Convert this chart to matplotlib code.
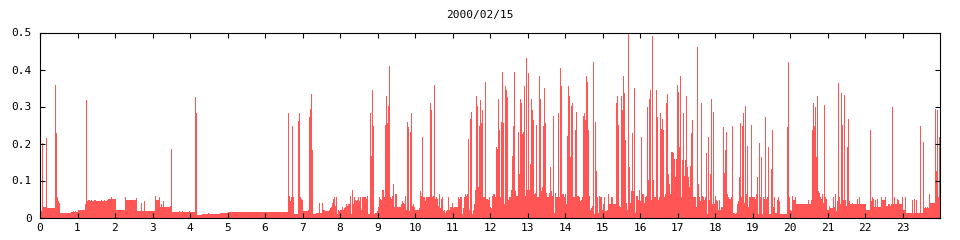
import numpy as np
import matplotlib
matplotlib.use("Agg")
import matplotlib.pyplot as plt

# one sample every 96 s, 100 samples per 2h40m block
samples_00h00 = [
    0.047, 0.016, 0.200, 0.027, 0.027, 0.027, 0.214, 0.023, 0.023, 0.023,
    0.023, 0.023, 0.023, 0.023, 0.023, 0.358, 0.226, 0.055, 0.042, 0.038,
    0.011, 0.011, 0.011, 0.011, 0.011, 0.011, 0.011, 0.011, 0.011, 0.011,
    0.011, 0.014, 0.014, 0.017, 0.014, 0.017, 0.014, 0.014, 0.020, 0.020,
    0.020, 0.020, 0.020, 0.020, 0.020, 0.036, 0.317, 0.043, 0.047, 0.045,
    0.043, 0.046, 0.044, 0.043, 0.045, 0.045, 0.044, 0.043, 0.044, 0.043,
    0.044, 0.046, 0.044, 0.044, 0.045, 0.044, 0.044, 0.046, 0.050, 0.048,
    0.049, 0.055, 0.048, 0.048, 0.050, 0.050, 0.020, 0.020, 0.020, 0.020,
    0.020, 0.020, 0.020, 0.020, 0.020, 0.055, 0.047, 0.047, 0.047, 0.047,
    0.047, 0.047, 0.047, 0.047, 0.047, 0.047, 0.052, 0.016, 0.016, 0.016,
]
samples_02h40 = [
    0.016, 0.037, 0.016, 0.016, 0.042, 0.016, 0.016, 0.016, 0.016, 0.016,
    0.016, 0.016, 0.016, 0.016, 0.016, 0.056, 0.047, 0.047, 0.047, 0.053,
    0.027, 0.036, 0.027, 0.044, 0.027, 0.027, 0.027, 0.027, 0.027, 0.027,
    0.030, 0.185, 0.014, 0.014, 0.014, 0.014, 0.014, 0.014, 0.014, 0.017,
    0.014, 0.014, 0.017, 0.014, 0.014, 0.014, 0.014, 0.014, 0.014, 0.017,
    0.014, 0.014, 0.014, 0.014, 0.014, 0.323, 0.282, 0.006, 0.006, 0.006,
    0.006, 0.006, 0.009, 0.009, 0.009, 0.009, 0.009, 0.009, 0.011, 0.009,
    0.009, 0.009, 0.009, 0.009, 0.009, 0.009, 0.009, 0.009, 0.009, 0.009,
    0.012, 0.012, 0.012, 0.012, 0.012, 0.012, 0.012, 0.012, 0.014, 0.014,
    0.014, 0.014, 0.014, 0.014, 0.014, 0.014, 0.014, 0.014, 0.014, 0.014,
]
samples_05h20 = [
    0.014, 0.014, 0.014, 0.014, 0.014, 0.014, 0.014, 0.014, 0.014, 0.014,
    0.014, 0.014, 0.014, 0.014, 0.014, 0.014, 0.014, 0.014, 0.014, 0.014,
    0.014, 0.014, 0.014, 0.014, 0.014, 0.014, 0.014, 0.014, 0.014, 0.014,
    0.014, 0.014, 0.014, 0.014, 0.014, 0.014, 0.014, 0.014, 0.014, 0.014,
    0.014, 0.014, 0.014, 0.014, 0.014, 0.014, 0.014, 0.014, 0.280, 0.058,
    0.042, 0.055, 0.245, 0.053, 0.007, 0.007, 0.007, 0.007, 0.260, 0.282,
    0.055, 0.050, 0.045, 0.015, 0.015, 0.015, 0.015, 0.015, 0.018, 0.270,
    0.293, 0.333, 0.180, 0.009, 0.009, 0.009, 0.012, 0.012, 0.012, 0.039,
    0.012, 0.012, 0.039, 0.020, 0.020, 0.015, 0.015, 0.015, 0.015, 0.020,
    0.025, 0.028, 0.037, 0.050, 0.053, 0.031, 0.053, 0.007, 0.018, 0.015,
]
samples_08h00 = [
    0.018, 0.018, 0.028, 0.020, 0.023, 0.028, 0.034, 0.031, 0.034, 0.034,
    0.058, 0.007, 0.072, 0.034, 0.055, 0.045, 0.042, 0.047, 0.053, 0.042,
    0.053, 0.020, 0.053, 0.053, 0.053, 0.053, 0.050, 0.058, 0.009, 0.007,
    0.282, 0.166, 0.344, 0.247, 0.007, 0.012, 0.012, 0.015, 0.026, 0.053,
    0.050, 0.045, 0.074, 0.074, 0.053, 0.250, 0.326, 0.255, 0.301, 0.407,
    0.053, 0.050, 0.058, 0.090, 0.028, 0.061, 0.063, 0.028, 0.026, 0.026,
    0.028, 0.036, 0.042, 0.039, 0.034, 0.058, 0.020, 0.258, 0.242, 0.015,
    0.231, 0.282, 0.031, 0.036, 0.026, 0.020, 0.020, 0.020, 0.020, 0.023,
    0.069, 0.058, 0.215, 0.053, 0.055, 0.042, 0.055, 0.055, 0.055, 0.055,
    0.309, 0.288, 0.055, 0.058, 0.358, 0.050, 0.053, 0.050, 0.031, 0.061,
]
samples_10h40 = [
    0.023, 0.050, 0.053, 0.015, 0.020, 0.012, 0.015, 0.020, 0.055, 0.018,
    0.026, 0.028, 0.039, 0.023, 0.028, 0.028, 0.028, 0.028, 0.055, 0.050,
    0.053, 0.053, 0.009, 0.023, 0.053, 0.061, 0.058, 0.061, 0.212, 0.020,
    0.266, 0.285, 0.009, 0.020, 0.036, 0.072, 0.328, 0.299, 0.082, 0.245,
    0.315, 0.253, 0.290, 0.055, 0.055, 0.366, 0.050, 0.050, 0.047, 0.055,
    0.028, 0.023, 0.058, 0.063, 0.063, 0.055, 0.190, 0.185, 0.318, 0.234,
    0.053, 0.258, 0.393, 0.255, 0.034, 0.355, 0.344, 0.323, 0.045, 0.055,
    0.055, 0.072, 0.166, 0.247, 0.393, 0.069, 0.058, 0.058, 0.231, 0.115,
    0.318, 0.309, 0.223, 0.231, 0.353, 0.058, 0.431, 0.074, 0.388, 0.072,
    0.142, 0.318, 0.290, 0.261, 0.063, 0.066, 0.250, 0.055, 0.053, 0.380,
]
samples_13h20 = [
    0.320, 0.069, 0.080, 0.245, 0.350, 0.255, 0.066, 0.055, 0.053, 0.066,
    0.134, 0.069, 0.058, 0.274, 0.012, 0.066, 0.055, 0.055, 0.282, 0.053,
    0.404, 0.355, 0.063, 0.063, 0.053, 0.061, 0.034, 0.220, 0.355, 0.326,
    0.161, 0.299, 0.309, 0.055, 0.053, 0.234, 0.285, 0.058, 0.058, 0.055,
    0.042, 0.047, 0.053, 0.274, 0.280, 0.263, 0.382, 0.366, 0.236, 0.058,
    0.020, 0.023, 0.031, 0.420, 0.009, 0.258, 0.123, 0.053, 0.012, 0.058,
    0.053, 0.053, 0.020, 0.034, 0.055, 0.015, 0.015, 0.020, 0.063, 0.036,
    0.036, 0.055, 0.053, 0.036, 0.036, 0.036, 0.307, 0.328, 0.250, 0.031,
    0.026, 0.328, 0.290, 0.382, 0.336, 0.207, 0.039, 0.020, 0.496, 0.134,
    0.039, 0.069, 0.228, 0.069, 0.350, 0.012, 0.058, 0.058, 0.045, 0.074,
]
samples_16h00 = [
    0.042, 0.217, 0.061, 0.061, 0.039, 0.055, 0.058, 0.296, 0.101, 0.318,
    0.344, 0.047, 0.490, 0.101, 0.053, 0.055, 0.342, 0.269, 0.045, 0.053,
    0.280, 0.239, 0.266, 0.234, 0.053, 0.061, 0.309, 0.333, 0.115, 0.090,
    0.061, 0.177, 0.177, 0.172, 0.158, 0.109, 0.158, 0.358, 0.339, 0.188,
    0.380, 0.055, 0.155, 0.282, 0.112, 0.155, 0.326, 0.134, 0.109, 0.082,
    0.139, 0.226, 0.263, 0.053, 0.055, 0.053, 0.028, 0.460, 0.088, 0.055,
    0.042, 0.307, 0.058, 0.053, 0.047, 0.055, 0.174, 0.007, 0.215, 0.045,
    0.115, 0.320, 0.036, 0.285, 0.036, 0.058, 0.045, 0.042, 0.020, 0.047,
    0.020, 0.026, 0.028, 0.242, 0.120, 0.180, 0.231, 0.063, 0.055, 0.050,
    0.050, 0.055, 0.247, 0.012, 0.012, 0.009, 0.012, 0.036, 0.042, 0.107,
]
samples_18h40 = [
    0.255, 0.055, 0.245, 0.280, 0.039, 0.301, 0.061, 0.193, 0.028, 0.053,
    0.053, 0.250, 0.055, 0.055, 0.055, 0.050, 0.061, 0.107, 0.007, 0.201,
    0.053, 0.163, 0.009, 0.053, 0.050, 0.269, 0.050, 0.053, 0.190, 0.007,
    0.007, 0.131, 0.236, 0.028, 0.055, 0.012, 0.012, 0.045, 0.053, 0.042,
    0.007, 0.007, 0.007, 0.007, 0.007, 0.007, 0.007, 0.242, 0.420, 0.055,
    0.018, 0.015, 0.058, 0.045, 0.045, 0.053, 0.036, 0.036, 0.036, 0.036,
    0.036, 0.036, 0.036, 0.036, 0.036, 0.036, 0.036, 0.036, 0.047, 0.036,
    0.036, 0.047, 0.236, 0.309, 0.245, 0.296, 0.163, 0.326, 0.069, 0.066,
    0.055, 0.050, 0.061, 0.039, 0.304, 0.053, 0.050, 0.018, 0.020, 0.031,
    0.023, 0.023, 0.023, 0.055, 0.026, 0.061, 0.015, 0.042, 0.361, 0.055,
]
samples_21h20 = [
    0.034, 0.336, 0.250, 0.047, 0.331, 0.047, 0.031, 0.190, 0.266, 0.042,
    0.036, 0.036, 0.039, 0.036, 0.036, 0.036, 0.036, 0.050, 0.036, 0.053,
    0.036, 0.036, 0.036, 0.036, 0.036, 0.036, 0.020, 0.020, 0.020, 0.020,
    0.234, 0.042, 0.053, 0.050, 0.028, 0.047, 0.028, 0.050, 0.028, 0.028,
    0.028, 0.053, 0.045, 0.045, 0.045, 0.055, 0.031, 0.031, 0.034, 0.034,
    0.031, 0.034, 0.298, 0.034, 0.053, 0.034, 0.034, 0.050, 0.047, 0.034,
    0.034, 0.034, 0.053, 0.018, 0.018, 0.055, 0.012, 0.012, 0.012, 0.012,
    0.012, 0.012, 0.047, 0.012, 0.050, 0.012, 0.047, 0.012, 0.012, 0.012,
    0.247, 0.012, 0.012, 0.204, 0.023, 0.026, 0.023, 0.026, 0.023, 0.061,
    0.039, 0.039, 0.039, 0.039, 0.039, 0.293, 0.123, 0.288, 0.055, 0.215,
]

title = "2000/02/15"
hour_ticks = list(range(0, 24))
y_ticks = [0, 0.1, 0.2, 0.3, 0.4, 0.5]
y_labels = ["0", "0.1", "0.2", "0.3", "0.4", "0.5"]

values = np.concatenate([samples_00h00, samples_02h40, samples_05h20,
                         samples_08h00, samples_10h40, samples_13h20,
                         samples_16h00, samples_18h40, samples_21h20])
edges = np.linspace(0, 24, len(values) + 1)

plt.rcParams['font.family'] = ['DejaVu Sans Mono']

fig = plt.figure(figsize=(9.6, 2.4), dpi=100)
ax = fig.add_axes([40 / 960, 1 - 217.5 / 240, 900 / 960, 185 / 240])

# crisp one-pixel bars like the original bitmap
ax.stairs(values, edges, fill=True, color='#ff5555', linewidth=0,
          antialiased=False)

ax.set_xlim(0, 24)
ax.set_ylim(0, 0.5)
ax.set_xticks(hour_ticks)
ax.set_xticklabels([str(h) for h in hour_ticks])
ax.set_yticks(y_ticks)
ax.set_yticklabels(y_labels)
ax.tick_params(direction='in', length=3.6, width=0.8, labelsize=8,
               top=True, right=True, color='black')
ax.tick_params(axis='y', pad=6)
ax.tick_params(axis='x', pad=4)
for sp in ax.spines.values():
    sp.set_linewidth(0.8)
    sp.set_zorder(3)

fig.text(0.5, 1 - 15 / 240, title, ha='center', va='center', fontsize=8)

fig.savefig("out.png", dpi=100)
